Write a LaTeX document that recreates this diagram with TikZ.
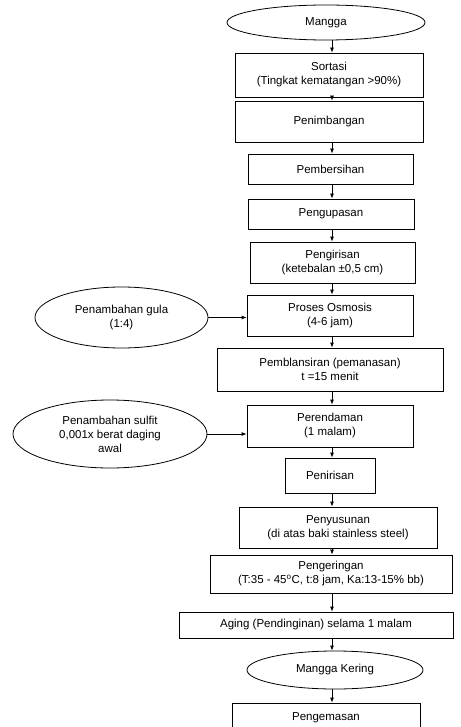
\documentclass[tikz,border=0pt]{standalone}
\usepackage{fontspec}
\setmainfont{Liberation Sans}
\usetikzlibrary{shapes.geometric,arrows.meta}
\begin{document}
\begin{tikzpicture}[x=1pt,y=-1pt,
  font=\fontsize{11.5pt}{14pt}\selectfont,
  every node/.style={inner sep=0pt,align=center,line width=0.8pt},
  procbox/.style={draw,rectangle,minimum width=#1},
  ovalbox/.style={draw,ellipse},
  arr/.style={line width=0.8pt,-{Latex[length=5pt,width=4pt]}}]
\useasboundingbox (0,0) rectangle (460,727);
\clip (0,0) rectangle (460,727);
\fill[white] (0,0) rectangle (460,727);
\coordinate (col) at (332,0);
\node[ovalbox,minimum width=198pt,minimum height=35pt] (mangga) at (326,22.5) {Mangga};
\node[procbox=188pt,minimum height=44pt] (sortasi) at (329,75) {Sortasi\\(Tingkat kematangan >90\%)};
\node[procbox=188pt,minimum height=41pt] (timbang) at (329,121.5) {Penimbangan};
\node[procbox=165pt,minimum height=30pt] (bersih) at (330.5,169) {Pembersihan};
\node[procbox=166pt,minimum height=30pt] (kupas) at (331,214) {Pengupasan};
\node[procbox=165pt,minimum height=41pt] (iris) at (332.5,262.5) {Pengirisan\\(ketebalan ±0,5 cm)};
\node[procbox=166pt,minimum height=41pt] (osmosis) at (330,315.5) {Proses Osmosis\\(4-6 jam)};
\node[procbox=226pt,minimum height=43pt] (blansir) at (330,369.5) {Pemblansiran (pemanasan)\\t =15 menit};
\node[procbox=166pt,minimum height=42pt] (rendam) at (330,426) {Perendaman\\(1 malam)};
\node[procbox=90pt,minimum height=35pt] (tiris) at (330,475.5) {Penirisan};
\node[procbox=198pt,minimum height=41pt] (susun) at (338,527.5) {Penyusunan\\(di atas baki stainless steel)};
\node[procbox=242pt,minimum height=38pt] (kering) at (331,574) {Pengeringan\\(T:35 - 45\textsuperscript{o}C, t:8 jam, Ka:13-15\% bb)};
\node[procbox=274pt,minimum height=26pt] (aging) at (316,625) {Aging (Pendinginan) selama 1 malam};
\node[ovalbox,minimum width=176pt,minimum height=38pt] (mk) at (335,670) {Mangga Kering};
\node[procbox=188pt,minimum height=30pt] (kemas) at (326,718) {Pengemasan};
\node[ovalbox,minimum width=173pt,minimum height=61pt] (gula) at (121.5,317.5) {Penambahan gula\\(1:4)};
\node[ovalbox,minimum width=194pt,minimum height=68pt] (sulfit) at (110,434) {Penambahan sulfit\\0,001x berat daging\\awal};
\foreach \a/\b in {mangga/sortasi,sortasi/timbang,timbang/bersih,bersih/kupas,kupas/iris,iris/osmosis,osmosis/blansir,blansir/rendam,rendam/tiris,tiris/susun,susun/kering,kering/aging,aging/mk,mk/kemas}
  \draw[arr] (\a.south -| col) -- (\b.north -| col);
\draw[arr] (gula.east) -- (osmosis.west |- gula.east);
\draw[arr] (sulfit.east) -- (rendam.west |- sulfit.east);
\end{tikzpicture}
\end{document}
